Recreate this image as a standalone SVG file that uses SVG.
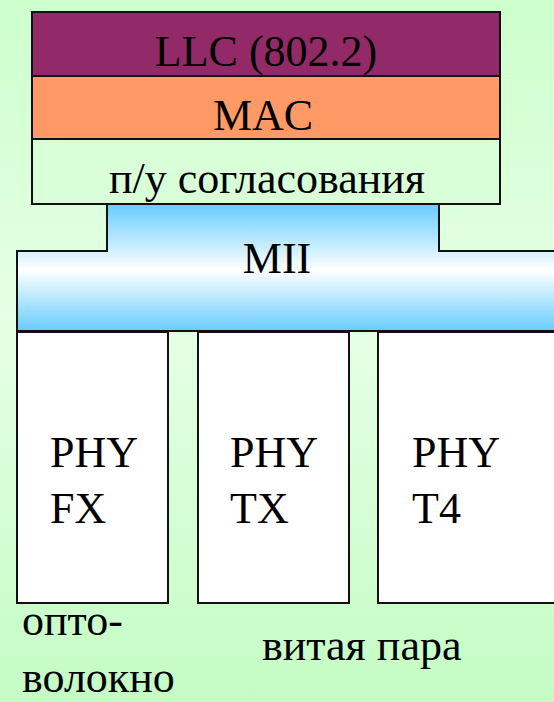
<svg xmlns="http://www.w3.org/2000/svg" width="554" height="702" viewBox="0 0 554 702">
<defs>
<linearGradient id="bg" x1="0" y1="0" x2="0" y2="1">
<stop offset="0" stop-color="#ccffcc"/>
<stop offset="0.45" stop-color="#e6ffe6"/>
<stop offset="1" stop-color="#c4fcc4"/>
</linearGradient>
<linearGradient id="mii" x1="0" y1="0" x2="0" y2="1">
<stop offset="0" stop-color="#66ccff"/>
<stop offset="0.52" stop-color="#ffffff"/>
<stop offset="1" stop-color="#66ccff"/>
</linearGradient>
<style>
.b{stroke:#111;stroke-width:2}
</style>
</defs>
<rect width="554" height="702" fill="url(#bg)"/>
<g id="llc"><rect class="b" x="32" y="12" width="468" height="64" fill="#912a66"/><text font-family="Liberation Serif" font-size="44" text-anchor="middle" x="266" y="66">LLC (802.2)</text></g>
<g id="mac"><rect class="b" x="32" y="76" width="468" height="63" fill="#ff9966"/><text font-family="Liberation Serif" font-size="44" text-anchor="middle" x="263" y="130">MAC</text></g>
<g id="rs"><rect class="b" x="32" y="139" width="468" height="65" fill="#d8ffd8"/><text font-family="Liberation Serif" font-size="44" text-anchor="middle" x="267" y="193">п/у согласования</text></g>
<g id="mii-node"><path class="b" d="M107 204 H439 V251 H556 V331 H17 V251 H107 Z" fill="url(#mii)"/><text font-family="Liberation Serif" font-size="44" text-anchor="middle" x="277" y="273">MII</text></g>
<g id="phy-fx"><rect class="b" x="17" y="332" width="151" height="271" fill="#fff"/><text font-family="Liberation Serif" font-size="44" x="50" y="467">PHY</text><text font-family="Liberation Serif" font-size="44" x="50" y="523">FX</text></g>
<g id="phy-tx"><rect class="b" x="198" y="332" width="151" height="271" fill="#fff"/><text font-family="Liberation Serif" font-size="44" x="230" y="467">PHY</text><text font-family="Liberation Serif" font-size="44" x="230" y="523">TX</text></g>
<g id="phy-t4"><rect class="b" x="378" y="332" width="180" height="271" fill="#fff"/><text font-family="Liberation Serif" font-size="44" x="412" y="467">PHY</text><text font-family="Liberation Serif" font-size="44" x="412" y="523">T4</text></g>
<g id="labels">
<text font-family="Liberation Serif" font-size="44" x="22" y="635">опто-</text>
<text font-family="Liberation Serif" font-size="44" x="22" y="692">волокно</text>
<text font-family="Liberation Serif" font-size="44" x="262" y="660">витая пара</text>
</g>
<g id="connectors"/>
</svg>
